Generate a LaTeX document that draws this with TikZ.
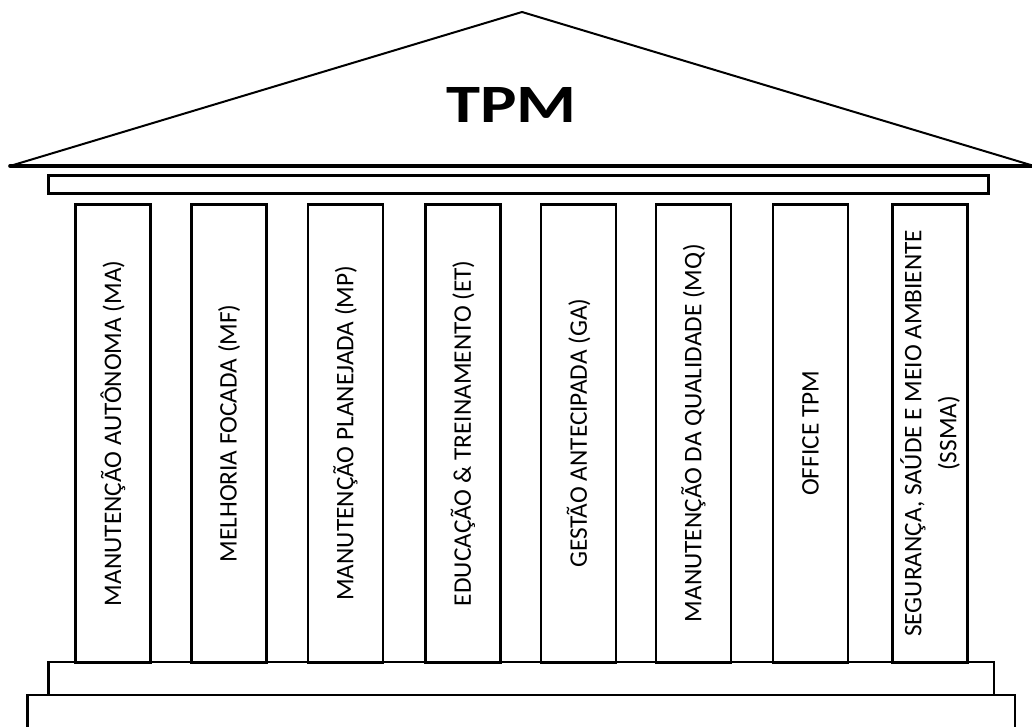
\documentclass[tikz,border=0pt]{standalone}
\usepackage{fontspec}
\setmainfont{Carlito}

\begin{document}
\begin{tikzpicture}[x=1pt,y=-1pt,
		pillar/.style={draw,line width=2.6pt,rotate=90,minimum width=458pt,minimum height=75pt,inner sep=0pt,align=center,font=\fontsize{25.3}{35}\selectfont},
		slab/.style={draw,line width=2.6pt}]
		\useasboundingbox (0,0) rectangle (1032,727);
		\coordinate (roofL) at (10,166);
		\coordinate (roofT) at (522,12);
		\coordinate (roofR) at (1034,166);
		\draw[line width=2pt,line join=round] (roofL) -- (roofT) -- (roofR);
		\draw[line width=3.6pt,line cap=round] (roofL) -- (roofR);
		\node (tpm) at (511.5,104.5) {\fontsize{54}{54}\selectfont\bfseries\scalebox{1.27}[1]{TPM}};
		\path[slab] (48.3,175.3) rectangle (988.7,193.7);
		\foreach \cx/\lbl [count=\k] in {
			113/{MANUTENÇÃO AUTÔNOMA (MA)},
			229/{MELHORIA FOCADA (MF)},
			345.5/{MANUTENÇÃO PLANEJADA (MP)},
			463/{EDUCAÇÃO \& TREINAMENTO (ET)},
			578.5/{GESTÃO ANTECIPADA (GA)},
			693.5/{MANUTENÇÃO DA QUALIDADE (MQ)},
			810.5/{OFFICE TPM},
			930/{SEGURANÇA, SAÚDE E MEIO AMBIENTE\\(SSMA)}}
			\node[pillar] (col\k) at (\cx,433.3) {\lbl};
		\path[slab] (48.3,662) rectangle (994,695);
		\path[slab] (27.3,695) rectangle (1015,745);
	\end{tikzpicture}
\end{document}
